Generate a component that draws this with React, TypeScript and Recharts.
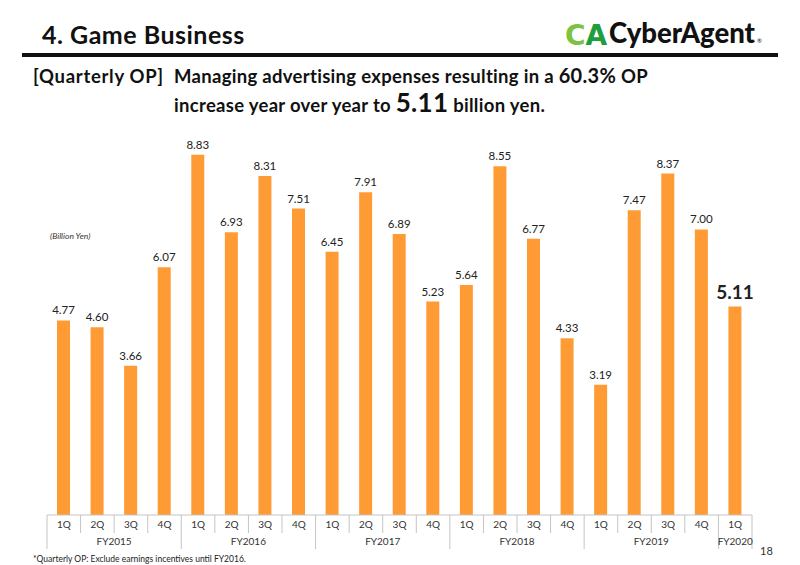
import { BarChart, Bar, XAxis, YAxis, LabelList } from 'recharts';

const fiscalYears = ['FY2015', 'FY2016', 'FY2017', 'FY2018', 'FY2019', 'FY2020'];
const quarterLabels = ['1Q', '2Q', '3Q', '4Q'];
// quarterly operating profit, billion yen, one list per fiscal year
const opFY2015 = [4.77, 4.6, 3.66, 6.07];
const opFY2016 = [8.83, 6.93, 8.31, 7.51];
const opFY2017 = [6.45, 7.91, 6.89, 5.23];
const opFY2018 = [5.64, 8.55, 6.77, 4.33];
const opFY2019 = [3.19, 7.47, 8.37, 7.0];
const opFY2020 = [5.11];
const opByYear = [opFY2015, opFY2016, opFY2017, opFY2018, opFY2019, opFY2020];

type Row = { q: string; fy: string; op: number; first: boolean; count: number };

const data: Row[] = [];
opByYear.forEach((vals, yi) => {
  vals.forEach((v, qi) => {
    data.push({ q: quarterLabels[qi], fy: fiscalYears[yi], op: v, first: qi === 0, count: vals.length });
  });
});

const W = 800;
const H = 565;
const M = { top: 107, right: 48, bottom: 14, left: 47 };
const AXIS_H = 36;
const PLOT_W = W - M.left - M.right;
const BAND = PLOT_W / data.length;
const ORANGE = '#FF9B35';
const GRID = '#c4c4c4';
const FONT = 'Lato, "Noto Sans", sans-serif';

function QuarterTick(props: any) {
  const { x, y, payload } = props;
  const i = payload.index;
  const row = data[i];
  const left = x - BAND / 2;
  const isLast = i === data.length - 1;
  return (
    <g>
      <line x1={left} x2={left} y1={y} y2={row.first ? y + 34 : y + 18} stroke={GRID} strokeWidth={1} />
      {isLast && <line x1={left + BAND} x2={left + BAND} y1={y} y2={y + 34} stroke={GRID} strokeWidth={1} />}
      <text x={x} y={y + 13} textAnchor="middle" fontSize={10} fill="#333" fontFamily={FONT}>
        {row.q}
      </text>
      {row.first && (
        <text
          x={x + ((row.count - 1) * BAND) / 2}
          y={y + 30}
          textAnchor="middle"
          fontSize={10}
          fill="#333"
          fontFamily={FONT}
        >
          {row.fy}
        </text>
      )}
    </g>
  );
}

function ValueLabel(props: any) {
  const { x, y, width, value, index } = props;
  const latest = index === data.length - 1;
  return (
    <text
      x={x + width / 2}
      y={latest ? y - 8 : y - 6}
      textAnchor="middle"
      fontSize={latest ? 19 : 11.5}
      fontWeight={latest ? 700 : 400}
      fill="#222"
      fontFamily={FONT}
    >
      {Number(value).toFixed(2)}
    </text>
  );
}

function Header() {
  return (
    <svg width={W} height={H} style={{ position: 'absolute', left: 0, top: 0 }}>
      <text x={42} y={44} fontSize={25} fontWeight={700} letterSpacing={0.5} fill="#111" fontFamily={FONT}>
        4. Game Business
      </text>
      {/* logo mark + wordmark */}
      <text x={565} y={45} fontSize={28} fontWeight={900} fontFamily="'DejaVu Sans', sans-serif">
        <tspan fill="#7DC242">C</tspan>
        <tspan fill="#1E9E3C">A</tspan>
      </text>
      <text x={609} y={43} fontSize={28} fontWeight={900} fill="#111" fontFamily={FONT} textLength={146} lengthAdjust="spacingAndGlyphs">
        CyberAgent
      </text>
      <text x={757} y={43} fontSize={6} fill="#111" fontFamily={FONT}>
        ®
      </text>
      <rect x={22} y={53} width={756} height={4} fill="#111" />

      <text x={33} y={83} fontSize={18.5} fontWeight={700} letterSpacing={0.7} fill="#111" fontFamily={FONT}>
        [Quarterly OP]
      </text>
      <text x={174} y={83} fontSize={18.5} fontWeight={700} letterSpacing={0.3} fill="#111" fontFamily={FONT}>
        Managing advertising expenses resulting in a <tspan fontSize={20}>60.3%</tspan> OP
      </text>
      <text x={174} y={112} fontSize={18.5} fontWeight={700} letterSpacing={0.3} fill="#111" fontFamily={FONT}>
        increase year over year to <tspan fontSize={26}>5.11</tspan> billion yen.
      </text>

      <text x={50} y={239} fontSize={8.5} fontStyle="italic" fill="#333" fontFamily={FONT}>
        (Billion Yen)
      </text>
      <text x={33} y={562} fontSize={8.5} fill="#222" fontFamily={FONT}>
        *Quarterly OP: Exclude earnings incentives until FY2016.
      </text>
      <text x={760} y={555} fontSize={11} fill="#333" fontFamily={FONT}>
        18
      </text>
    </svg>
  );
}

export default function App() {
  return (
    <div style={{ position: 'absolute', left: 0, top: 0, width: W, height: H, background: '#fff' }}>
      <Header />
      <div style={{ position: 'absolute', left: 0, top: 0 }}>
        <BarChart width={W} height={H} data={data} margin={M} barSize={13}>
          <XAxis
            dataKey="q"
            interval={0}
            height={AXIS_H}
            tickSize={0}
            tickMargin={0}
            axisLine={{ stroke: GRID }}
            tickLine={false}
            tick={<QuarterTick />}
          />
          <YAxis hide domain={[0, 10]} />
          <Bar dataKey="op" fill={ORANGE} isAnimationActive={false}>
            <LabelList dataKey="op" content={<ValueLabel />} />
          </Bar>
        </BarChart>
      </div>
    </div>
  );
}
